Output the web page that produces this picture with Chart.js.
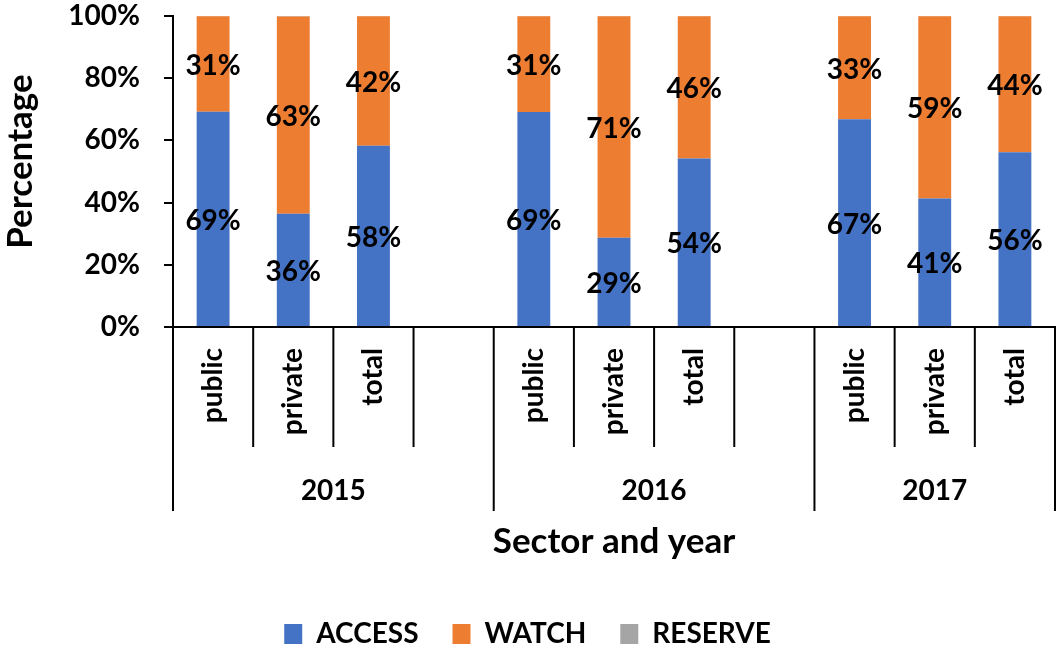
<!DOCTYPE html>
<html><head><meta charset="utf-8">
<script src="https://cdn.jsdelivr.net/npm/chart.js@4.4.0/dist/chart.umd.min.js"></script>
<style>html,body{margin:0;padding:0;background:#fff;}#wrap{width:1063px;height:650px;}</style>
</head><body><div id="wrap"><canvas id="c" width="1063" height="650"></canvas></div>
<script>
// ---- data ----
const categories = ['public','private','total','', 'public','private','total','', 'public','private','total'];
const yearOf     = ['2015','2015','2015','2015','2016','2016','2016','2016','2017','2017','2017'];
const access  = [69.2, 36.4, 58.3, null, 69.1, 28.7, 54.2, null, 66.8, 41.3, 56.2];
const watch   = [30.7, 63.4, 41.6, null, 30.8, 71.2, 45.7, null, 33.1, 58.6, 43.7];
const reserve = [0.1, 0.2, 0.1, null, 0.1, 0.1, 0.1, null, 0.1, 0.1, 0.1];
const seriesNames = ['ACCESS','WATCH','RESERVE'];
const yTickValues = [0, 20, 40, 60, 80, 100];
const xTitle = 'Sector and year';
const yTitle = 'Percentage';

const FONT = "Lato, 'Liberation Sans', sans-serif";
const COLORS = ['#4472C4', '#ED7D31', '#A5A5A5'];

const decorPlugin = {
  id: 'decor',
  afterDatasetsDraw(chart) {
    const ctx = chart.ctx;
    ctx.save();
    ctx.fillStyle = '#000';
    ctx.font = 'bold 28px ' + FONT;
    ctx.textAlign = 'center';
    ctx.textBaseline = 'middle';
    [0, 1].forEach(di => {
      const meta = chart.getDatasetMeta(di);
      const vals = chart.data.datasets[di].data;
      meta.data.forEach((el, i) => {
        const v = vals[i];
        if (v == null) return;
        const p = el.getProps(['x', 'y', 'base'], true);
        ctx.fillText(Math.round(v) + '%', p.x, (p.y + p.base) / 2 + 2);
      });
    });
    ctx.restore();
  },
  afterDraw(chart) {
    const {ctx, chartArea} = chart;
    const xs = chart.scales.x;
    const n = categories.length;
    const slot = (chartArea.right - chartArea.left) / n;
    const axisY = chartArea.bottom;
    ctx.save();
    ctx.strokeStyle = '#000';
    ctx.lineWidth = 2;
    for (let i = 0; i <= n; i++) {
      const bx = i < n ? xs.getPixelForValue(i) - slot / 2 : xs.getPixelForValue(n - 1) + slot / 2;
      const isLong = i === 0 || i === n || yearOf[i] !== yearOf[i - 1];
      ctx.beginPath();
      ctx.moveTo(bx, axisY);
      ctx.lineTo(bx, axisY + (isLong ? 184 : 120));
      ctx.stroke();
    }
    ctx.fillStyle = '#000';
    ctx.font = 'bold 28px ' + FONT;
    ctx.textBaseline = 'middle';
    // sub labels
    categories.forEach((lab, i) => {
      if (!lab) return;
      const cx = xs.getPixelForValue(i);
      ctx.save();
      ctx.translate(cx, axisY + 21);
      ctx.rotate(-Math.PI / 2);
      ctx.textAlign = 'right';
      ctx.fillText(lab, 0, 0);
      ctx.restore();
    });
    // year labels
    const years = [...new Set(yearOf)];
    ctx.textAlign = 'center';
    years.forEach(y => {
      const first = yearOf.indexOf(y);
      const last = yearOf.lastIndexOf(y);
      const l = xs.getPixelForValue(first) - slot / 2;
      const r = xs.getPixelForValue(last) + slot / 2;
      ctx.fillText(y, (l + r) / 2, axisY + 164);
    });
    // axis titles
    ctx.font = 'bold 35px ' + FONT;
    ctx.fillText(xTitle, (chartArea.left + chartArea.right) / 2, axisY + 215);
    ctx.save();
    ctx.translate(21, (chartArea.top + chartArea.bottom) / 2 - 10);
    ctx.rotate(-Math.PI / 2);
    ctx.fillText(yTitle, 0, 0);
    ctx.restore();
    ctx.restore();
  }
};

new Chart(document.getElementById('c'), {
  type: 'bar',
  data: {
    labels: categories,
    datasets: [
      {label: seriesNames[0], data: access, backgroundColor: COLORS[0]},
      {label: seriesNames[1], data: watch, backgroundColor: COLORS[1]},
      {label: seriesNames[2], data: reserve, backgroundColor: COLORS[2]}
    ]
  },
  options: {
    responsive: false,
    animation: false,
    devicePixelRatio: 1,
    layout: {padding: {top: 16, right: 8, left: 0, bottom: 0}},
    datasets: {bar: {barPercentage: 0.41, categoryPercentage: 1, borderWidth: 0}},
    plugins: {
      tooltip: {enabled: false},
      legend: {
        position: 'bottom',
        maxHeight: 64,
        labels: {
          color: '#000',
          font: {family: FONT, size: 28, weight: 'bold'},
          boxWidth: 18, boxHeight: 20, padding: 34
        }
      }
    },
    scales: {
      x: {
        stacked: true,
        grid: {display: false},
        ticks: {display: false},
        border: {display: true, color: '#000', width: 2},
        afterFit(s) { s.height = 259; s.paddingLeft = 0; s.paddingRight = 0; }
      },
      y: {
        stacked: true,
        min: 0, max: 100,
        afterBuildTicks(s) { s.ticks = yTickValues.map(v => ({value: v})); },
        ticks: {
          color: '#000', padding: 24,
          font: {family: FONT, size: 28, weight: 'bold'},
          callback: v => v + '%'
        },
        grid: {drawOnChartArea: false, drawTicks: true, tickLength: 9, color: '#000', lineWidth: 2},
        border: {display: true, color: '#000', width: 2},
        afterFit(s) { s.width = 173; s.paddingTop = 0; s.paddingBottom = 0; }
      }
    }
  },
  plugins: [decorPlugin]
});
</script></body></html>
